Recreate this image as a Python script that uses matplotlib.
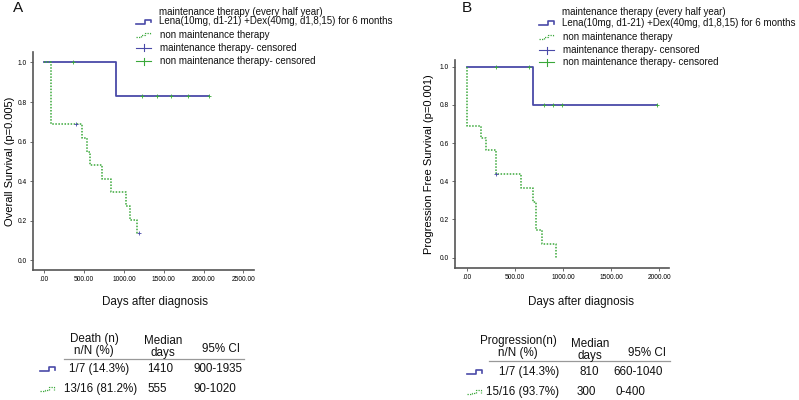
import matplotlib
matplotlib.use('Agg')
import matplotlib.pyplot as plt
import numpy as np

plt.rcParams['font.family'] = ['Liberation Sans', 'DejaVu Sans']

# panel A: overall survival
os_maint_t = [0, 900, 2070]
os_maint_s = [1.0, 0.833, 0.833]
os_maint_cens_t = [355, 1230, 1410, 1590, 1800, 2070]
os_maint_cens_s = [1.0, 0.833, 0.833, 0.833, 0.833, 0.833]
os_non_t = [0, 90, 475, 540, 575, 720, 835, 1025, 1075, 1165, 1195]
os_non_s = [1.0, 0.6875, 0.619, 0.55, 0.481, 0.4125, 0.344, 0.275, 0.206, 0.1375, 0.1375]
os_non_cens_t = [395, 1195]
os_non_cens_s = [0.6875, 0.1375]

# panel B: progression free survival
pfs_maint_t = [0, 690, 1980]
pfs_maint_s = [1.0, 0.8, 0.8]
pfs_maint_cens_t = [300, 650, 805, 895, 995, 1980]
pfs_maint_cens_s = [1.0, 1.0, 0.8, 0.8, 0.8, 0.8]
pfs_non_t = [0, 0, 150, 205, 300, 560, 690, 720, 780, 930]
pfs_non_s = [1.0, 0.6875, 0.625, 0.5625, 0.4375, 0.3646, 0.2917, 0.1458, 0.0729, 0.0]
pfs_non_cens_t = [300]
pfs_non_cens_s = [0.4375]

yticks = [0.0, 0.2, 0.4, 0.6, 0.8, 1.0]
xticks_a = [0, 500, 1000, 1500, 2000, 2500]
xticks_b = [0, 500, 1000, 1500, 2000]

legend_lines = ['maintenance therapy (every half year)',
                'Lena(10mg, d1-21) +Dex(40mg, d1,8,15) for 6 months',
                'non maintenance therapy',
                'maintenance therapy- censored',
                'non maintenance therapy- censored']

table_a_head = ['Death (n)\nn/N (%)', 'Median\ndays', '95% CI']
table_a_rows = [['1/7 (14.3%)', '1410', '900-1935'],
                ['13/16 (81.2%)', '555', '90-1020']]
table_b_head = ['Progression(n)\nn/N (%)', 'Median\ndays', '95% CI']
table_b_rows = [['1/7 (14.3%)', '810', '660-1040'],
                ['15/16 (93.7%)', '300', '0-400']]

BLUE = '#4a4aa8'
GREEN = '#3aa83a'
AXC = '#555555'
FS_TAB = 8.4
FS_LEG = 7.0

W, H = 799, 400
fig = plt.figure(figsize=(W / 100, H / 100), dpi=100)


def px_axes(l, t, r, b):
    return fig.add_axes([l / W, 1 - b / H, (r - l) / W, (b - t) / H])


def km_panel(ax, mt, ms, mct, mcs, nt, ns, nct, ncs, xticks, xlim, ylim, ylabel, lpad):
    ax.step(mt, ms, where='post', color=BLUE, lw=1.3)
    ax.step(nt, ns, where='post', color=GREEN, lw=1.1, ls=(0, (1, 1)))
    ax.plot(mct, mcs, ls='none', marker='+', ms=3, mew=0.6, color=GREEN)
    ax.plot(nct, ncs, ls='none', marker='+', ms=3, mew=0.6, color=BLUE)
    ax.set_xlim(*xlim)
    ax.set_ylim(*ylim)
    ax.set_xticks(xticks)
    ax.set_xticklabels(['.00' if v == 0 else '%.2f' % v for v in xticks])
    ax.set_yticks(yticks)
    ax.set_yticklabels(['%.1f' % v for v in yticks])
    ax.tick_params(labelsize=4.8, length=2.5, width=0.6, color=AXC, pad=2)
    for s in ['top', 'right']:
        ax.spines[s].set_visible(False)
    for s in ['left', 'bottom']:
        ax.spines[s].set_color(AXC)
        ax.spines[s].set_linewidth(1.2)
    ax.set_ylabel(ylabel, fontsize=8.0, labelpad=lpad)
    ax.patch.set_alpha(0)


axA = px_axes(33, 52, 254, 270)
km_panel(axA, os_maint_t, os_maint_s, os_maint_cens_t, os_maint_cens_s,
         os_non_t, os_non_s, os_non_cens_t, os_non_cens_s,
         xticks_a, (-142, 2634), (-0.048, 1.053), 'Overall Survival (p=0.005)', 2)

axB = px_axes(455, 60, 669, 268)
km_panel(axB, pfs_maint_t, pfs_maint_s, pfs_maint_cens_t, pfs_maint_cens_s,
         pfs_non_t, pfs_non_s, pfs_non_cens_t, pfs_non_cens_s,
         xticks_b, (-121, 2102), (-0.054, 1.035), 'Progression Free Survival (p=0.001)', 4)

# overlay in pixel coordinates for legends, labels and tables
ov = fig.add_axes([0, 0, 1, 1])
ov.set_xlim(0, W)
ov.set_ylim(H, 0)
ov.axis('off')


def txt(x, y, s, size=FS_LEG, ha='left', va='center', **kw):
    ov.text(x, y, s, fontsize=size, ha=ha, va=va, color='#111111', **kw)


def icon_maint(x, y):
    ov.plot([x, x + 9, x + 9, x + 15, x + 15], [y + 2, y + 2, y - 2, y - 2, y + 0.5],
            color=BLUE, lw=1.2)


def icon_non(x, y):
    ov.plot([x, x + 5, x + 5, x + 9, x + 9, x + 14, x + 14],
            [y + 2, y + 2, y + 0.5, y + 0.5, y - 2, y - 2, y + 0.5],
            color=GREEN, lw=0.9, ls=(0, (1, 1)))


def icon_cens(x, y, c):
    ov.plot([x, x + 15], [y, y], color=c, lw=0.8)
    ov.plot([x + 7.5, x + 7.5], [y - 3.5, y + 3.5], color=c, lw=0.8)


def legend(x_icon, x_txt, ys):
    txt(x_txt, ys[0], legend_lines[0])
    txt(x_txt, ys[1], legend_lines[1])
    icon_maint(x_icon, ys[1])
    txt(x_txt + 1, ys[2], legend_lines[2])
    icon_non(x_icon, ys[2])
    txt(x_txt + 1, ys[3], legend_lines[3])
    icon_cens(x_icon, ys[3], BLUE)
    txt(x_txt + 1, ys[4], legend_lines[4])
    icon_cens(x_icon, ys[4], GREEN)


legend(136, 159, [11.7, 21.5, 34.5, 47.7, 61])
legend(539, 562, [12.3, 23.3, 36.7, 50, 62.3])

txt(18, 8, 'A', size=11, ha='center')
txt(467, 8, 'B', size=11, ha='center')

txt(155, 302, 'Days after diagnosis', size=FS_TAB, ha='center')
txt(581, 302, 'Days after diagnosis', size=FS_TAB, ha='center')


def table(head, rows, hx, hy, line, row_y, col_x, icon_x):
    for s, x, y in zip(head, hx, hy):
        ov.text(x, y, s, fontsize=FS_TAB, ha='center', va='center', linespacing=0.9,
                color='#111111')
    ov.plot(line[:2], [line[2], line[2]], color='#999999', lw=0.9)
    for i, (row, y) in enumerate(zip(rows, row_y)):
        if i == 0:
            icon_maint(icon_x, y)
        else:
            icon_non(icon_x, y)
        for s, (x, ha) in zip(row, col_x[i]):
            txt(x, y, s, size=FS_TAB, ha=ha)


table(table_a_head, table_a_rows, [94, 163, 221], [345, 347, 349.5],
      (64, 244, 358.5), [369, 389],
      [[(99, 'center'), (147, 'left'), (194, 'left')],
       [(101, 'center'), (147, 'left'), (193, 'left')]], 40)
table(table_b_head, table_b_rows, [518, 590, 647], [347, 350, 352.5],
      (489, 670, 361), [372, 392],
      [[(499, 'left'), (579, 'left'), (613, 'left')],
       [(486, 'left'), (577, 'left'), (616, 'left')]], 467)

fig.savefig('out.png', dpi=100)
